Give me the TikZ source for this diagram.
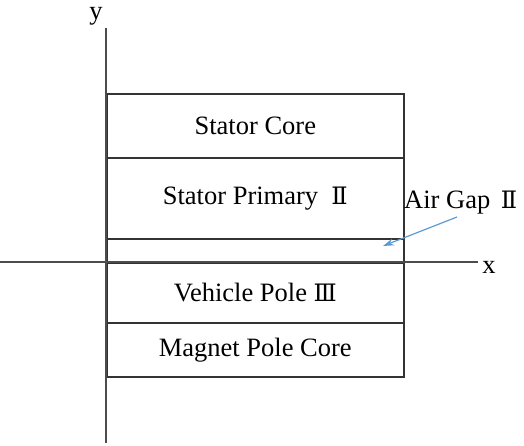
\documentclass[tikz,border=0pt]{standalone}
\usepackage{fontspec}
\setmainfont{Liberation Serif}
\newfontfamily\romfont{DejaVu Serif}
\usetikzlibrary{arrows.meta}
\begin{document}
\begin{tikzpicture}[x=1pt,y=-1pt,
  layer/.style={draw=black!80,line width=1.6pt,rectangle,inner sep=0pt,minimum width=297pt,anchor=north west,font=\fontsize{26.5}{26.5}\selectfont},
  axis/.style={draw=black!70,line width=1.6pt},
  lbl/.style={font=\fontsize{26.5}{26.5}\selectfont,inner sep=0pt}]
\useasboundingbox (0,0) rectangle (524,446);
\node[layer,minimum height=64pt] (core) at (106,93) {Stator Core};
\node[layer,minimum height=81pt] (prim) at (106,157) {Stator Primary\hspace{0.5em}{\romfont\fontsize{24}{24}\selectfont Ⅱ}};
\node[layer,minimum height=24pt] (gap) at (106,238) {};
\node[layer,minimum height=60pt] (veh) at (106,262) {Vehicle Pole\hspace{0.25em}{\romfont\fontsize{24}{24}\selectfont Ⅲ}};
\node[layer,minimum height=54pt] (mag) at (106,322) {Magnet Pole Core};
\coordinate (yb) at (106,443);
\coordinate (yt) at (106,28);
\coordinate (xl) at (0,262);
\coordinate (xr) at (478,262);
\draw[axis] (yb) -- (yt);
\draw[axis] (xl) -- (xr);
\node[lbl,anchor=base] (ylab) at (96,20) {y};
\node[lbl,anchor=base] (xlab) at (489,273) {x};
\node[lbl,anchor=base west] (air) at (404,209) {Air Gap\hspace{0.4em}{\romfont\fontsize{24}{24}\selectfont Ⅱ}};
\coordinate (as) at (457,217);
\coordinate (ae) at (383,246);
\draw[draw={rgb,255:red,91;green,155;blue,213},line width=1.2pt,-{Stealth[length=11pt,width=7pt]}] (as) -- (ae);
\end{tikzpicture}
\end{document}
